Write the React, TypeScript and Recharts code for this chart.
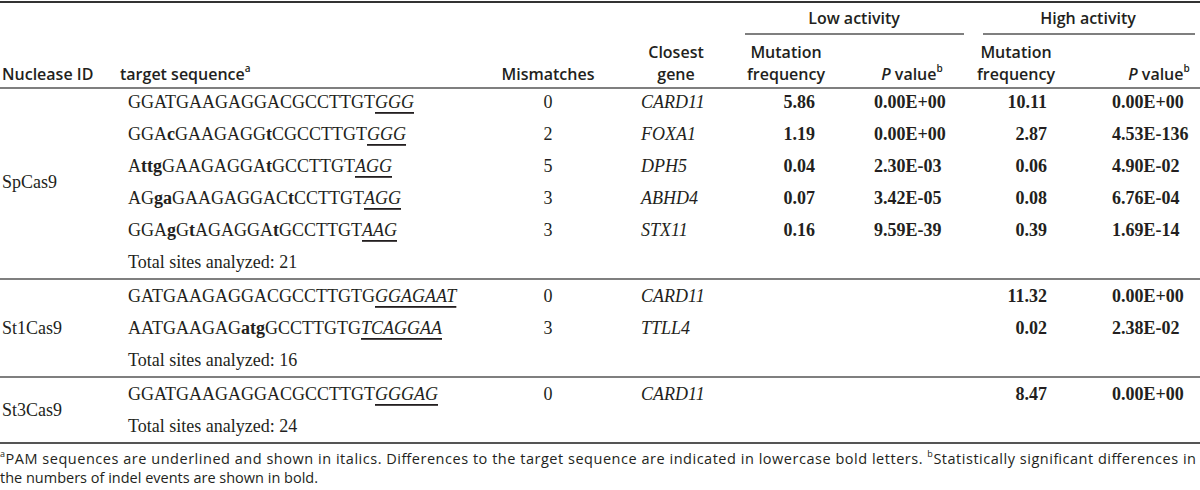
import React from 'react';
import { Surface } from 'recharts';

// lowercase letters in a sequence = mismatches (shown bold)
const sequences = [
  'GGATGAAGAGGACGCCTTGT',
  'GGAcGAAGAGGtCGCCTTGT',
  'AttgGAAGAGGAtGCCTTGT',
  'AGgaGAAGAGGACtCCTTGT',
  'GGAgGtAGAGGAtGCCTTGT',
  'GATGAAGAGGACGCCTTGTG',
  'AATGAAGAGatgGCCTTGTG',
  'GGATGAAGAGGACGCCTTGT',
];
const pams = ['GGG', 'GGG', 'AGG', 'AGG', 'AAG', 'GGAGAAT', 'TCAGGAA', 'GGGAG'];
const mismatches = ['0', '2', '5', '3', '3', '0', '3', '0'];
const genes = ['CARD11', 'FOXA1', 'DPH5', 'ABHD4', 'STX11', 'CARD11', 'TTLL4', 'CARD11'];
const lowFreq = ['5.86', '1.19', '0.04', '0.07', '0.16', '', '', ''];
const lowP = ['0.00E+00', '0.00E+00', '2.30E-03', '3.42E-05', '9.59E-39', '', '', ''];
const highFreq = ['10.11', '2.87', '0.06', '0.08', '0.39', '11.32', '0.02', '8.47'];
const highP = ['0.00E+00', '4.53E-136', '4.90E-02', '6.76E-04', '1.69E-14', '0.00E+00', '2.38E-02', '0.00E+00'];

const nucleases = ['SpCas9', 'St1Cas9', 'St3Cas9'];
const groupSizes = [5, 2, 1];
const totalSites = [21, 16, 24];

const W = 1200;
const H = 490;
const SERIF = '"Liberation Serif", "Times New Roman", serif';
const SANS = '"Open Sans", "Noto Sans", sans-serif';
const INK = '#231f20';
const RULE = '#555';

const PITCH = 32;
const ROW0 = 102;
const GAP = 1; // extra space added around a group separator

const col = {
  nuc: 2,
  seq: 128,
  mism: 548,
  gene: 641,
  lowF: 815,
  lowP: 874,
  highF: 1047,
  highP: 1112,
};

const Seq = ({ s, pam }: { s: string; pam: string }) => {
  const parts = s.match(/[A-Z]+|[a-z]+/g) || [];
  return (
    <>
      {parts.map((p, i) => (
        <tspan key={i} fontWeight={p === p.toLowerCase() ? 700 : 400}>
          {p}
        </tspan>
      ))}
      <tspan fontStyle="italic" textDecoration="underline">
        {pam}
      </tspan>
    </>
  );
};

export default function App() {
  // work out row positions
  const rows: { y: number; idx: number }[] = [];
  const totals: number[] = [];
  const labels: number[] = [];
  const seps: number[] = [];
  let y = ROW0;
  let idx = 0;
  groupSizes.forEach((n, g) => {
    const first = y;
    for (let k = 0; k < n; k++) {
      rows.push({ y, idx });
      idx++;
      y += PITCH;
    }
    totals.push(y);
    labels.push(g === 0 ? first + 2.5 * PITCH : g === 1 ? first + PITCH : first + PITCH / 2);
    seps.push(y + PITCH / 2 + GAP);
    y += PITCH + 2 * GAP;
  });

  const bodyText = { fontFamily: SERIF, fontSize: 18, fill: INK, dominantBaseline: 'central' as const };
  const headText = { fontFamily: SANS, fontSize: 16, fontWeight: 600, fill: INK, dominantBaseline: 'central' as const };
  const footY = seps[2] + 15;

  return (
    <div style={{ position: 'absolute', left: 0, top: 0, background: '#fff' }}>
      <Surface width={W} height={H}>
        <rect x={0} y={0} width={W} height={H} fill="#fff" />
        {/* rules */}
        <line x1={0} x2={W} y1={2} y2={2} stroke="#333" strokeWidth={2} />
        <line x1={745} x2={964} y1={34} y2={34} stroke={RULE} strokeWidth={1.5} />
        <line x1={983} x2={1195} y1={34} y2={34} stroke={RULE} strokeWidth={1.5} />
        <line x1={0} x2={W} y1={88} y2={88} stroke={RULE} strokeWidth={1.5} />
        {seps.map((sy, i) => (
          <line key={i} x1={0} x2={W} y1={sy} y2={sy} stroke={RULE} strokeWidth={i === 2 ? 2 : 1.5} />
        ))}

        {/* header */}
        <text {...headText} x={854} y={18} textAnchor="middle">Low activity</text>
        <text {...headText} x={1088} y={18} textAnchor="middle">High activity</text>
        <text {...headText} x={676} y={52} textAnchor="middle">Closest</text>
        <text {...headText} x={786} y={52} textAnchor="middle">Mutation</text>
        <text {...headText} x={1016} y={52} textAnchor="middle">Mutation</text>
        <text {...headText} x={col.nuc} y={74}>Nuclease ID</text>
        <text {...headText} x={120} y={74}>
          target sequence<tspan fontSize={10} dy={-6}>a</tspan>
        </text>
        <text {...headText} x={col.mism} y={74} textAnchor="middle">Mismatches</text>
        <text {...headText} x={676} y={74} textAnchor="middle">gene</text>
        <text {...headText} x={786} y={74} textAnchor="middle">frequency</text>
        <text {...headText} x={1016} y={74} textAnchor="middle">frequency</text>
        <text {...headText} x={912} y={74} textAnchor="middle">
          <tspan fontStyle="italic">P</tspan> value<tspan fontSize={10} dy={-6}>b</tspan>
        </text>
        <text {...headText} x={1159} y={74} textAnchor="middle">
          <tspan fontStyle="italic">P</tspan> value<tspan fontSize={10} dy={-6}>b</tspan>
        </text>

        {/* body */}
        {rows.map(({ y: ry, idx: i }) => (
          <g key={i}>
            <text {...bodyText} x={col.seq} y={ry}>
              <Seq s={sequences[i]} pam={pams[i]} />
            </text>
            <text {...bodyText} x={col.mism} y={ry} textAnchor="middle">{mismatches[i]}</text>
            <text {...bodyText} x={col.gene} y={ry} fontStyle="italic">{genes[i]}</text>
            <text {...bodyText} x={col.lowF} y={ry} textAnchor="end" fontWeight={700}>{lowFreq[i]}</text>
            <text {...bodyText} x={col.lowP} y={ry} fontWeight={700}>{lowP[i]}</text>
            <text {...bodyText} x={col.highF} y={ry} textAnchor="end" fontWeight={700}>{highFreq[i]}</text>
            <text {...bodyText} x={col.highP} y={ry} fontWeight={700}>{highP[i]}</text>
          </g>
        ))}
        {totals.map((ty, g) => (
          <text key={g} {...bodyText} x={col.seq} y={ty}>
            Total sites analyzed: {totalSites[g]}
          </text>
        ))}
        {nucleases.map((n, g) => (
          <text key={n} {...bodyText} x={col.nuc} y={labels[g]}>{n}</text>
        ))}

        {/* footnotes */}
        <text fontFamily={SANS} fontSize={14.5} fill={INK} x={0} y={footY} dominantBaseline="central" textLength={1196} lengthAdjust="spacing">
          <tspan fontSize={9} dy={-5}>a</tspan>
          <tspan dy={5}>PAM sequences are underlined and shown in italics. Differences to the target sequence are indicated in lowercase bold letters. </tspan>
          <tspan fontSize={9} dy={-5}>b</tspan>
          <tspan dy={5}>Statistically significant differences in</tspan>
        </text>
        <text fontFamily={SANS} fontSize={14.5} fill={INK} x={0} y={footY + 19} dominantBaseline="central">
          the numbers of indel events are shown in bold.
        </text>
      </Surface>
    </div>
  );
}
